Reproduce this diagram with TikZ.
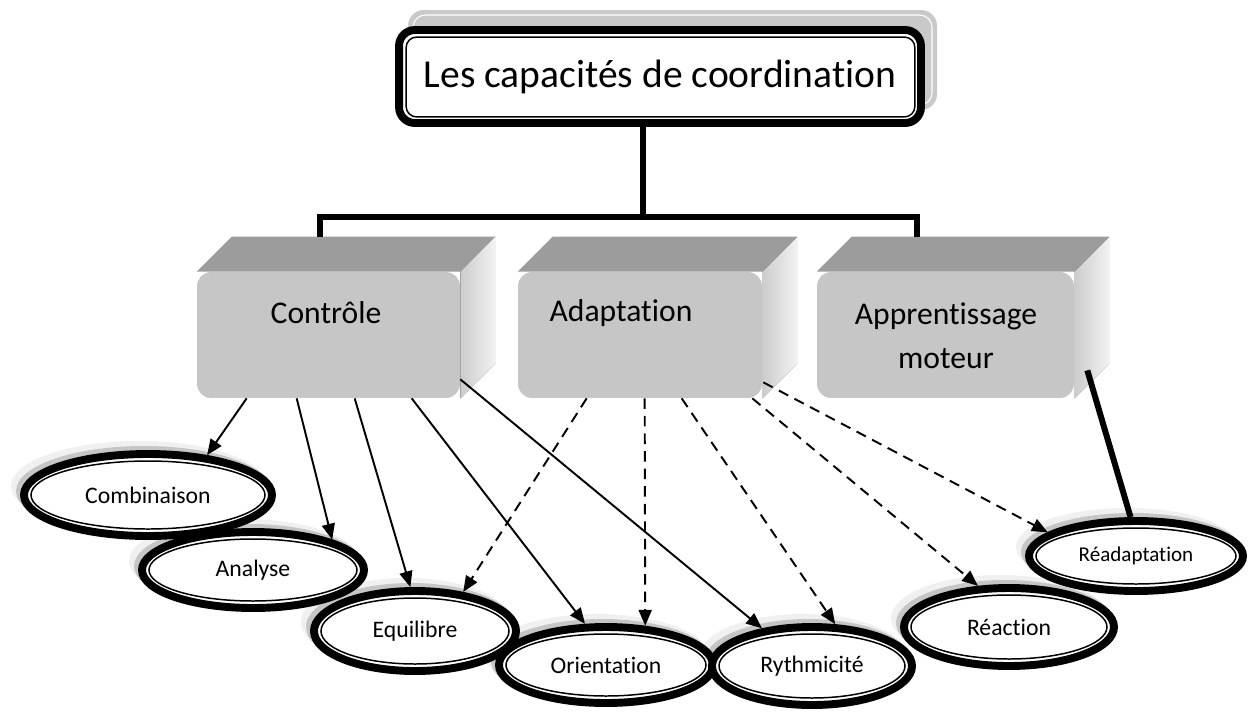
\documentclass[tikz,border=0pt]{standalone}
\usepackage{fontspec}
\setmainfont{Carlito}[Ligatures=NoCommon]
\usetikzlibrary{arrows.meta,calc,shapes.geometric,backgrounds}

\begin{document}
\begin{tikzpicture}[x=0.02cm,y=-0.02cm,>={Triangle[length=9pt,width=7.4pt]}]
\tikzstyle{bus}=[line width=3.4pt]
\tikzstyle{face}=[rounded corners=8pt,fill=gray!45,minimum height=2.52cm,inner sep=0pt]
\tikzstyle{topface}=[fill=gray!78]
\tikzstyle{sideface}=[left color=gray!40,right color=gray!10]
\tikzstyle{boxtxt}=[font=\fontsize{18}{25}\selectfont,align=center]
\tikzstyle{ell}=[ellipse,draw,line width=4.5pt,fill=white,inner sep=0pt]
\tikzstyle{ellin}=[line width=0.85pt]
\tikzstyle{halo}=[fill=gray!12]
\tikzstyle{halob}=[fill=gray!45]
\tikzstyle{arr}=[->,line width=1.1pt]
\tikzstyle{darr}=[arr,dash pattern=on 6pt off 4pt]
\useasboundingbox (0,0) rectangle (1252,711);

% titre
\fill[gray!42,rounded corners=9pt] (408,10) rectangle (937,110);
\draw[white,line width=0.6pt,rounded corners=7pt] (413,15) rectangle (932,105);
\node[draw,line width=4.5pt,fill=white,rounded corners=9pt,minimum width=10.44cm,minimum height=1.86cm,font=\fontsize{22.5}{27}\selectfont] (title) at (660,76.5) {Les capacités de coordination};
\draw[ellin,rounded corners=6pt] ([shift={(11,11)}]title.north west) rectangle ([shift={(-10,-10)}]title.south east);

% blocs 3D
\foreach \n/\x/\w in {ctrl/328.5/5.26,adapt/640/4.88,appr/945.5/5.14} {
  \node[face,minimum width=\w cm] (\n) at (\x,335) {};
  \begin{scope}[on background layer]
    \fill[topface] (\n.north west) -- ++(35,-35) -- ($(\n.north east)+(35,-35)$) -- (\n.north east) -- cycle;
    \fill[sideface] (\n.north east) -- ++(35,-35) -- ($(\n.south east)+(35,-35)$) -- (\n.south east) -- cycle;
  \end{scope}
}
\node[boxtxt] (ctrltxt) at (326,313) {Contrôle};
\node[boxtxt] (adapttxt) at (621,313) {Adaptation};
\node[boxtxt] (apprtxt) at (946,336) {Apprentissage\\moteur};

% liaisons du titre
\coordinate (busL) at (320,237);
\coordinate (busM) at (643,217);
\coordinate (busR) at (917,237);
\draw[bus] (title.south -| busM) -- (busM);
\draw[bus] (busL) |- (busM) -| (busR);

% ellipses
\def\elllist{combi/148/495/124/41/Combinaison/13.5,analyse/253/570/111/38/Analyse/13.5,equil/415/631/101/40/Equilibre/13.5,orient/606/665/107/38/Orientation/13.5,rythm/812/666/100/39/Rythmicité/13.5,readapt/1136/556/107/35/Réadaptation/12,react/1009/627/105/39/Réaction/13.5}
\foreach \n/\x/\y/\a/\b/\t/\s in \elllist {
  \fill[halo] (\x-9,\y-9) ellipse ({\a+4} and {\b+4});
  \fill[halob] (\x-4,\y-4) ellipse ({\a+4} and {\b+4});
}
\foreach \n/\x/\y/\a/\b/\t/\s in \elllist {
  \node[ell,minimum width={2*\a*0.02cm},minimum height={2*\b*0.02cm},font=\fontsize{\s}{16}\selectfont] (\n) at (\x,\y) {\t};
  \draw[ellin] (\n.center) ellipse ({\a-7} and {\b-7});
}

% fleches
\draw[arr] ($(ctrl.south west)+(50,0)$) -- (combi.34);
\draw[arr] ($(ctrl.south west)+(100,0)$) -- (analyse.21);
\draw[arr] ($(ctrl.south west)+(158,0)$) -- (equil.96);
\draw[arr] ($(ctrl.south west)+(215,0)$) -- (orient.117);
\draw[arr] ($(ctrl.south east)+(0,-19)$) -- (rythm.143);
\draw[darr] ($(adapt.south west)+(69,0)$) -- (equil.39);
\draw[darr] ($(adapt.south west)+(127,0)$) -- (orient.45);
\draw[darr] ($(adapt.south west)+(164,0)$) -- (rythm.61);
\draw[darr] ($(adapt.south east)+(-10,0)$) -- (react.127);
\draw[darr] ($(adapt.south east)+(1,-16)$) -- (readapt.165);
\draw[bus] ($(appr.south east)+(13,-28)$) -- (readapt.98);
\end{tikzpicture}
\end{document}
